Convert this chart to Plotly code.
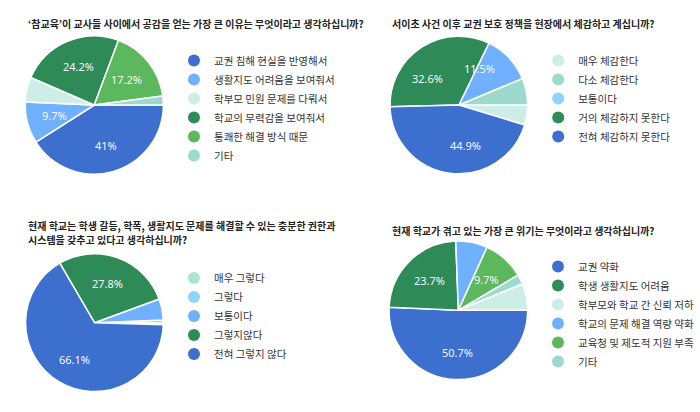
import math
import plotly.graph_objects as go

W, H = 700, 412

# ---------------- data ----------------
q1_title = ["‘참교육’이 교사들 사이에서 공감을 얻는 가장 큰 이유는 무엇이라고 생각하십니까?"]
q1_labels = ["교권 침해 현실을 반영해서", "생활지도 어려움을 보여줘서", "학부모 민원 문제를 다뤄서",
             "학교의 무력감을 보여줘서", "통쾌한 해결 방식 때문", "기타"]
q1_values = [41, 9.7, 5.8, 24.2, 17.2, 2.1]
q1_colors = ["#3d6fcf", "#70b1ff", "#cdeee6", "#2e8b57", "#5cb85c", "#9dd9cc"]
q1_legend_colors = q1_colors
q1_slice_order = [0, 1, 2, 3, 4, 5]

q2_title = ["서이초 사건 이후 교권 보호 정책을 현장에서 체감하고 계십니까?"]
q2_labels = ["매우 체감한다", "다소 체감한다", "보통이다", "거의 체감하지 못한다", "전혀 체감하지 못한다"]
q2_values = [4.7, 6.3, 11.5, 32.6, 44.9]
q2_colors = ["#cdeee6", "#9dd9cc", "#70b1ff", "#2e8b57", "#3d6fcf"]
q2_legend_colors = ["#cdeee6", "#9dd9cc", "#8fd3ff", "#2e8b57", "#3d6fcf"]
q2_slice_order = [0, 1, 2, 3, 4]

q3_title = ["현재 학교는 학생 갈등, 학폭, 생활지도 문제를 해결할 수 있는 충분한 권한과",
            "시스템을 갖추고 있다고 생각하십니까?"]
q3_labels = ["매우 그렇다", "그렇다", "보통이다", "그렇지않다", "전혀 그렇지 않다"]
q3_values = [0.5, 0.6, 5.0, 27.8, 66.1]
q3_colors = ["#a8e6cf", "#8fd3ff", "#70b1ff", "#2e8b57", "#3d6fcf"]
q3_legend_colors = q3_colors
q3_slice_order = [0, 1, 2, 3, 4]

q4_title = ["현재 학교가 겪고 있는 가장 큰 위기는 무엇이라고 생각하십니까?"]
q4_labels = ["교권 약화", "학생 생활지도 어려움", "학부모와 학교 간 신뢰 저하",
             "학교의 문제 해결 역량 약화", "교육청 및 제도적 지원 부족", "기타"]
q4_values = [50.7, 23.7, 6.2, 7.4, 9.7, 2.3]
q4_colors = ["#3d6fcf", "#2e8b57", "#cdeee6", "#70b1ff", "#5cb85c", "#9dd9cc"]
q4_legend_colors = q4_colors
q4_slice_order = [0, 1, 3, 4, 5, 2]

LABEL_MIN = 9  # slices smaller than this carry no label

# ---------------- layout ----------------
FONT = "Noto Sans CJK KR, Noto Sans, sans-serif"
LABEL_RADIUS = 0.6   # fraction of the pie radius where percent labels sit
TITLE_LINE = 14.6    # px between title lines

charts = [
    # title, labels, values, colors, legend colors, order, direction, center(px), r, title_xy, legend_xy, legend name
    (q1_title, q1_labels, q1_values, q1_colors, q1_legend_colors, q1_slice_order, "clockwise",
     (94.8, 105.0), 69.5, (26, 24), (175, 46), "legend"),
    (q2_title, q2_labels, q2_values, q2_colors, q2_legend_colors, q2_slice_order, "counterclockwise",
     (461.5, 105.0), 69.2, (392.5, 24), (541.3, 46), "legend2"),
    (q3_title, q3_labels, q3_values, q3_colors, q3_legend_colors, q3_slice_order, "counterclockwise",
     (95.0, 322.7), 69.3, (26, 225.4), (175, 263.6), "legend3"),
    (q4_title, q4_labels, q4_values, q4_colors, q4_legend_colors, q4_slice_order, "clockwise",
     (461.0, 310.3), 69.7, (392.5, 230), (541.3, 252), "legend4"),
]

fig = go.Figure()
annotations = []
legend_layouts = {}

for (title, labels, values, colors, lcolors, order, direction, (cx, cy), r,
     (tx, ty), (lx, ly), lname) in charts:
    s_labels = [labels[i] for i in order]
    s_values = [values[i] for i in order]
    s_colors = [colors[i] for i in order]
    fig.add_trace(go.Pie(
        labels=s_labels, values=s_values,
        textinfo="none", sort=False, direction=direction, rotation=90,
        marker=dict(colors=s_colors, line=dict(color="white", width=1.5)),
        domain=dict(x=[(cx - r) / W, (cx + r) / W], y=[1 - (cy + r) / H, 1 - (cy - r) / H]),
        showlegend=False, hoverinfo="label+percent",
    ))
    # percent labels at the middle angle of each slice
    total = sum(s_values)
    sign = -1 if direction == "clockwise" else 1
    cum = 0.0
    for v in s_values:
        mid = (cum + v / 2) / total * 2 * math.pi
        cum += v
        if v < LABEL_MIN:
            continue
        px = cx + LABEL_RADIUS * r * math.cos(sign * mid)
        py = cy - LABEL_RADIUS * r * math.sin(sign * mid)
        annotations.append(dict(
            text=f"{v:g}%", x=px / W, y=1 - py / H, xref="paper", yref="paper",
            xanchor="center", yanchor="middle", showarrow=False,
            font=dict(family="Noto Sans, sans-serif", size=11, color="#f4f7ff"),
        ))
    for lab, col in zip(labels, lcolors):
        fig.add_trace(go.Scatter(
            x=[None], y=[None], mode="markers", name=lab, legend=lname,
            marker=dict(size=12, color=col, line=dict(width=0)),
            showlegend=True,
        ))
    for k, line in enumerate(title):
        annotations.append(dict(
            text=f"<b>{line}</b>", x=tx / W, y=1 - (ty + k * TITLE_LINE) / H,
            xref="paper", yref="paper",
            xanchor="left", yanchor="middle", align="left", showarrow=False,
            font=dict(family=FONT, size=10, color="#222222"),
        ))
    legend_layouts[lname] = dict(
        x=lx / W, y=1 - ly / H, xanchor="left", yanchor="top",
        bgcolor="rgba(0,0,0,0)", borderwidth=0, itemclick=False,
        font=dict(family=FONT, size=10.5, color="#333333"),
        tracegroupgap=0,
    )

fig.update_layout(
    width=W, height=H, margin=dict(l=0, r=0, t=0, b=0),
    paper_bgcolor="white", plot_bgcolor="white",
    xaxis=dict(visible=False), yaxis=dict(visible=False),
    annotations=annotations, showlegend=True,
    **legend_layouts,
)

fig.write_html("out.html")
